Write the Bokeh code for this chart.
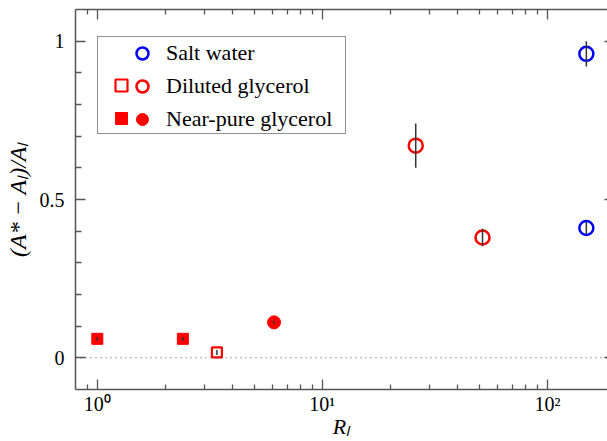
from bokeh.plotting import figure
from bokeh.models import (Range1d, FixedTicker, LinearAxis, LogAxis, Legend, LegendItem,
                          Span, ColumnDataSource, CustomJSTickFormatter)
from bokeh.embed import file_html
from bokeh.resources import INLINE

# ---------------- data ----------------
salt_x = [149.0, 149.0]
salt_y = [0.96, 0.41]
salt_err = [0.04, 0.02]

dil_sq_x = [3.4]
dil_sq_y = [0.017]
dil_sq_err = [0.008]

dil_circ_x = [26.0, 51.5]
dil_circ_y = [0.67, 0.38]
dil_circ_err = [0.07, 0.028]

pure_sq_x = [1.0, 2.4]
pure_sq_y = [0.06, 0.06]
pure_sq_err = [0.006, 0.006]

pure_circ_x = [6.1]
pure_circ_y = [0.112]
pure_circ_err = [0.005]

x_major = [1, 10, 100]
x_major_labels = {1: "10⁰", 10: "10¹", 100: "10²"}
x_minor = [0.9, 2, 3, 4, 5, 6, 7, 8, 9, 20, 30, 40, 50, 60, 70, 80, 90]
y_major = [0, 0.5, 1]
y_major_labels = {0: "0", 0.5: "0.5", 1: "1"}
y_minor = [0.1, 0.2, 0.3, 0.4, 0.6, 0.7, 0.8, 0.9]

legend_labels = ["Salt water", "Diluted glycerol", "Near-pure glycerol"]

FONT = "Liberation Serif"
RED = "#ff0000"
BLUE = "#0000ff"
AXC = "#555555"

p = figure(width=607, height=441, x_axis_type="log",
           x_range=Range1d(0.8, 185), y_range=Range1d(-0.1, 1.1),
           output_backend="svg", toolbar_location=None,
           min_border_left=75, min_border_right=0, min_border_top=9, min_border_bottom=50,
           outline_line_color=None, background_fill_color="white", border_fill_color="white")
p.grid.visible = False

# bottom axis
xa = p.xaxis[0]
xa.ticker = FixedTicker(ticks=x_major, minor_ticks=x_minor)
xa.major_label_overrides = x_major_labels
xa.major_tick_in = 10
xa.major_tick_out = 0
xa.minor_tick_in = 5
xa.minor_tick_out = 0
xa.axis_line_color = AXC
xa.axis_line_width = 1.5
xa.major_tick_line_color = AXC
xa.minor_tick_line_color = AXC
xa.major_tick_line_width = 1.3
xa.minor_tick_line_width = 1.3
xa.major_label_text_font = FONT
xa.major_label_text_font_size = "20px"
xa.major_label_text_color = "black"
xa.major_label_standoff = 3
xa.axis_label = "Rₗ"
xa.axis_label_text_font = FONT
xa.axis_label_text_font_style = "italic"
xa.axis_label_text_font_size = "22px"
xa.axis_label_text_color = "black"
xa.axis_label_standoff = -4

# left axis
ya = p.yaxis[0]
ya.ticker = FixedTicker(ticks=y_major, minor_ticks=y_minor)
ya.major_label_overrides = y_major_labels
ya.major_tick_in = 10
ya.major_tick_out = 0
ya.minor_tick_in = 6
ya.minor_tick_out = 0
ya.axis_line_color = AXC
ya.axis_line_width = 1.5
ya.major_tick_line_color = AXC
ya.minor_tick_line_color = AXC
ya.major_tick_line_width = 1.3
ya.minor_tick_line_width = 1.3
ya.major_label_text_font = FONT
ya.major_label_text_font_size = "20px"
ya.major_label_text_color = "black"
ya.major_label_standoff = 11
ya.axis_label = "(A* − Aₗ)/Aₗ"
ya.axis_label_text_font = FONT
ya.axis_label_text_font_style = "italic"
ya.axis_label_text_font_size = "24px"
ya.axis_label_text_color = "black"
ya.axis_label_standoff = 6

blank = CustomJSTickFormatter(code="return ''")

top = LogAxis(ticker=FixedTicker(ticks=x_major, minor_ticks=x_minor), formatter=blank,
              major_tick_in=10, major_tick_out=0, minor_tick_in=5, minor_tick_out=0,
              axis_line_color=AXC, axis_line_width=1.5,
              major_tick_line_color=AXC, minor_tick_line_color=AXC,
              major_tick_line_width=1.3, minor_tick_line_width=1.3,
              major_label_standoff=0, major_label_text_font_size="1px")
p.add_layout(top, "above")

right = LinearAxis(ticker=FixedTicker(ticks=y_major, minor_ticks=[]), formatter=blank,
                   major_tick_in=3, major_tick_out=0, minor_tick_in=0, minor_tick_out=0,
                   axis_line_color=None, major_tick_line_color=AXC, major_tick_line_width=1.3,
                   major_label_standoff=0, major_label_text_font_size="1px")
p.add_layout(right, "right")

# zero line
p.add_layout(Span(location=0, dimension="width", line_color="#444444",
                  line_width=1, line_dash="1 4"))

# markers
r_pure_sq = p.scatter(pure_sq_x, pure_sq_y, marker="square", size=11,
                      fill_color=RED, line_color=RED, line_width=1)
r_dil_sq = p.scatter(dil_sq_x, dil_sq_y, marker="square", size=10,
                     fill_color="white", line_color=RED, line_width=2.2)
r_pure_c = p.scatter(pure_circ_x, pure_circ_y, marker="circle", size=13,
                     fill_color=RED, line_color=RED, line_width=1)
r_dil_c = p.scatter(dil_circ_x, dil_circ_y, marker="circle", size=14,
                    fill_color=None, line_color=RED, line_width=2.5)
r_salt = p.scatter(salt_x, salt_y, marker="circle", size=14,
                   fill_color=None, line_color=BLUE, line_width=2.5)
r_blank = p.scatter([], [], marker="circle", size=0, fill_alpha=0, line_alpha=0)

# error bars
ex = salt_x + dil_sq_x + dil_circ_x + pure_sq_x + pure_circ_x
ey = salt_y + dil_sq_y + dil_circ_y + pure_sq_y + pure_circ_y
ee = salt_err + dil_sq_err + dil_circ_err + pure_sq_err + pure_circ_err
err_src = ColumnDataSource(dict(x=ex,
                                lo=[y - e for y, e in zip(ey, ee)],
                                hi=[y + e for y, e in zip(ey, ee)]))
p.segment(x0="x", y0="lo", x1="x", y1="hi", source=err_src,
          line_color="#333333", line_width=1.5)

# legend: background box with square glyphs, then circles + labels on top
legB = Legend(items=[LegendItem(label=" ", renderers=[r_blank]),
                     LegendItem(label=" ", renderers=[r_dil_sq]),
                     LegendItem(label=" ", renderers=[r_pure_sq])],
              location=(22, 255), glyph_width=46, glyph_height=30, spacing=3,
              padding=0, margin=0, label_standoff=5, label_width=196,
              label_text_font=FONT, label_text_font_size="22px",
              border_line_color="#222222", border_line_width=1,
              background_fill_color="white", background_fill_alpha=1)
legA = Legend(items=[LegendItem(label=legend_labels[0], renderers=[r_salt]),
                     LegendItem(label=legend_labels[1], renderers=[r_dil_c]),
                     LegendItem(label=legend_labels[2], renderers=[r_pure_c])],
              location=(47, 255), glyph_width=40, glyph_height=30, spacing=3,
              padding=0, margin=0, label_standoff=4,
              label_text_font=FONT, label_text_font_size="22px", label_text_color="black",
              border_line_color=None, background_fill_alpha=0)
p.add_layout(legB)
p.add_layout(legA)

open("out.html", "w").write(file_html(p, INLINE))
